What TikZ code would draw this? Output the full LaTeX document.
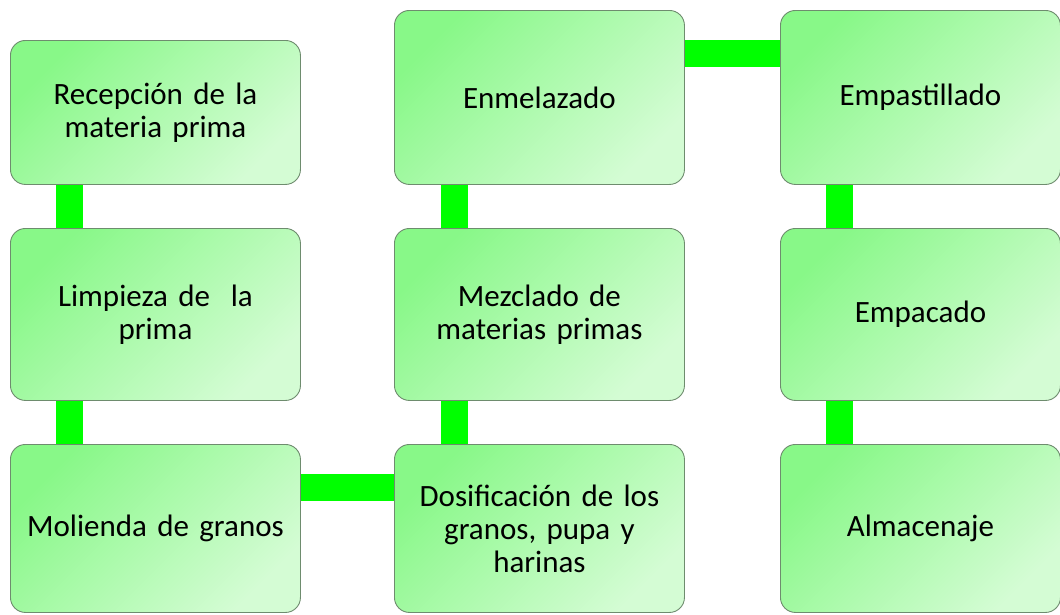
\documentclass[tikz,border=0pt]{standalone}
\usepackage{fontspec}
\setmainfont{Carlito}
\definecolor{gA}{RGB}{136,248,136}
\definecolor{gB}{RGB}{212,252,212}
\definecolor{bordc}{RGB}{110,140,110}
\definecolor{connc}{RGB}{0,255,0}
\tikzset{
  stepbox/.style={draw=bordc, line width=0.9pt, rounded corners=15pt,
    top color=gA, bottom color=gB, shading angle=45,
    anchor=north west, inner sep=0pt, align=center, text width=280pt,
    font=\fontsize{31}{33}\selectfont, text=black},
  conn/.style={draw=connc, line width=27pt, line cap=butt}
}
\begin{document}
\begin{tikzpicture}[x=1pt,y=-1pt]
\useasboundingbox (0,0) rectangle (1060,614);
\node[stepbox, minimum width=290pt, minimum height=144pt] (rec) at (10,40) {Recepción de la\\materia prima};
\node[stepbox, minimum width=290pt, minimum height=172pt] (lim) at (10,228) {Limpieza de \ la\\prima};
\node[stepbox, minimum width=290pt, minimum height=168pt] (mol) at (10,444) {Molienda de granos};
\node[stepbox, minimum width=290pt, minimum height=168pt] (dos) at (394,444) {Dosificación de los\\granos, pupa y\\harinas};
\node[stepbox, minimum width=290pt, minimum height=172pt] (mez) at (394,228) {Mezclado de\\materias primas};
\node[stepbox, minimum width=290pt, minimum height=174pt] (enm) at (394,10) {Enmelazado};
\node[stepbox, minimum width=280pt, minimum height=174pt] (emp) at (780,10) {Empastillado};
\node[stepbox, minimum width=280pt, minimum height=172pt] (eca) at (780,228) {Empacado};
\node[stepbox, minimum width=280pt, minimum height=168pt] (alm) at (780,444) {Almacenaje};
\draw[conn] ([xshift=59.5pt]rec.south west) -- ([xshift=59.5pt]lim.north west);
\draw[conn] ([xshift=59.5pt]lim.south west) -- ([xshift=59.5pt]mol.north west);
\draw[conn] ([yshift=-43.5pt]mol.north east) -- ([yshift=-43.5pt]dos.north west);
\draw[conn] ([xshift=60.5pt]dos.north west) -- ([xshift=60.5pt]mez.south west);
\draw[conn] ([xshift=60.5pt]mez.north west) -- ([xshift=60.5pt]enm.south west);
\draw[conn] ([yshift=-43.5pt]enm.north east) -- ([yshift=-43.5pt]emp.north west);
\draw[conn] ([xshift=59.5pt]emp.south west) -- ([xshift=59.5pt]eca.north west);
\draw[conn] ([xshift=59.5pt]eca.south west) -- ([xshift=59.5pt]alm.north west);
\end{tikzpicture}
\end{document}
